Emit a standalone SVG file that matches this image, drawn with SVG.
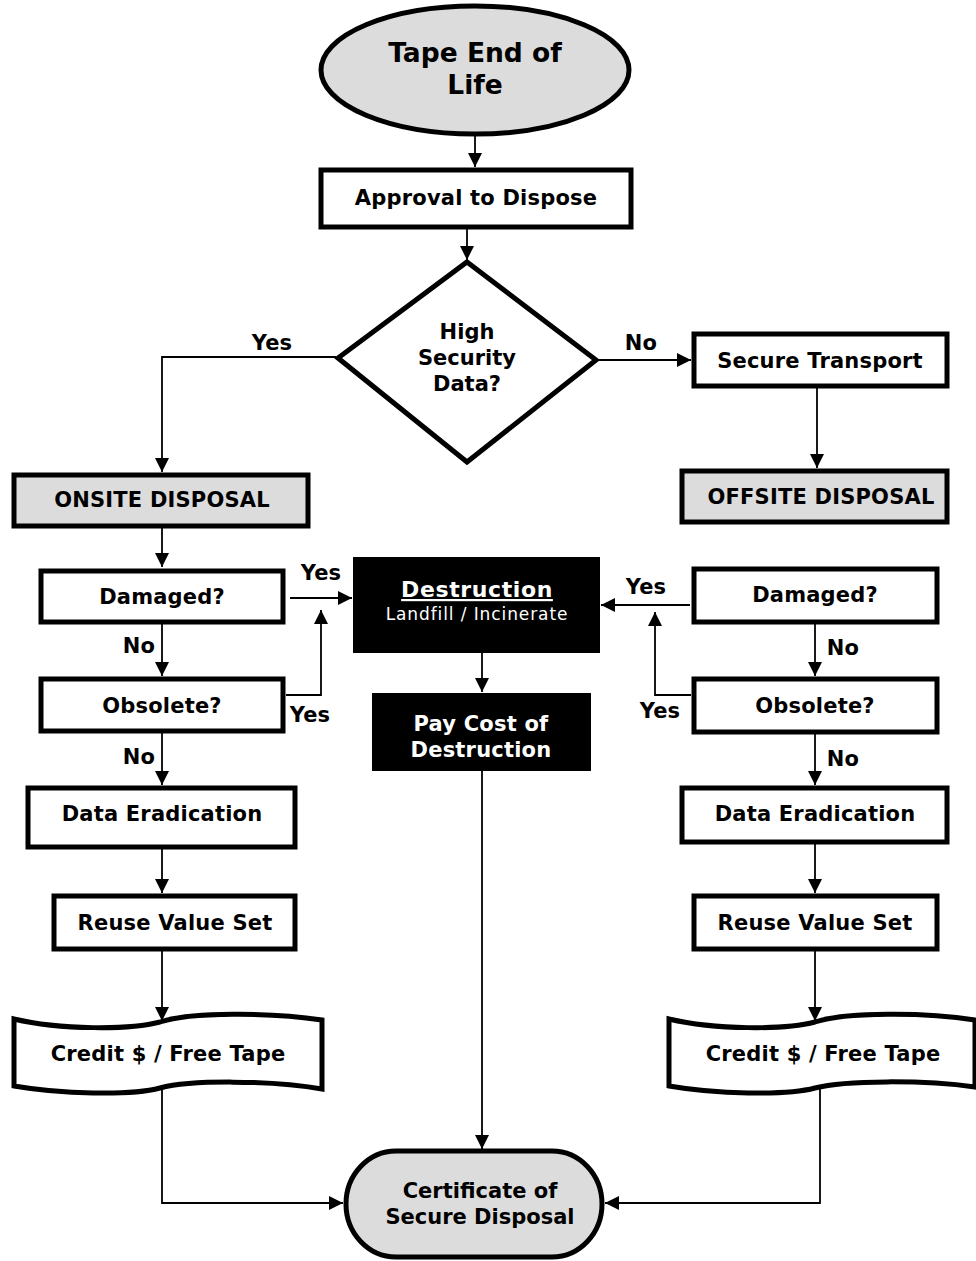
<svg xmlns="http://www.w3.org/2000/svg" width="976" height="1261" viewBox="0 0 976 1261">
<defs>
<marker id="ah" viewBox="0 0 14 14" refX="14" refY="7" markerWidth="14" markerHeight="14" markerUnits="userSpaceOnUse" orient="auto">
<path d="M0,0 L14,7 L0,14 Z" fill="#000"/>
</marker>
<style>
.box{fill:#fff;stroke:#000;stroke-width:5}
.gray{fill:#dcdcdc;stroke:#000;stroke-width:5}
.blk{fill:#000;stroke:none}
.c{fill:none;stroke:#000;stroke-width:1.8}
.a{marker-end:url(#ah)}
text{font-family:"DejaVu Sans","Liberation Sans",sans-serif;font-weight:bold;font-size:21px;letter-spacing:0.2px;fill:#000;text-anchor:middle}
.w{fill:#fff}
.big{font-size:26.5px;letter-spacing:0}
.mid{font-size:21px;letter-spacing:0}
</style>
</defs>
<rect width="976" height="1261" fill="#fff"/>

<g id="connectors">
<path class="c a" d="M475,135 V167"/>
<path class="c a" d="M467,228 V260"/>
<path class="c a" d="M336,357 H162 V472"/>
<path class="c a" d="M598,360 H691"/>
<path class="c a" d="M817,387 V468"/>
<path class="c a" d="M162,527 V567"/>
<path class="c a" d="M290,598 H352"/>
<path class="c a" d="M162,623 V676"/>
<path class="c a" d="M286,695 H321 V610"/>
<path class="c a" d="M162,733 V785"/>
<path class="c a" d="M162,848 V893"/>
<path class="c a" d="M162,950 V1021"/>
<path class="c a" d="M162,1088 V1203 H343"/>
<path class="c a" d="M482,653 V692"/>
<path class="c a" d="M482,771 V1149"/>
<path class="c a" d="M690,605 H601"/>
<path class="c a" d="M691,695 H655 V612"/>
<path class="c a" d="M815,623 V676"/>
<path class="c a" d="M815,733 V785"/>
<path class="c a" d="M815,843 V893"/>
<path class="c a" d="M815,950 V1021"/>
<path class="c a" d="M820,1088 V1203 H605"/>
</g>

<g id="labels">
<text x="272" y="350">Yes</text>
<text x="641" y="350">No</text>
<text x="321" y="580">Yes</text>
<text x="310" y="722">Yes</text>
<text x="139" y="653">No</text>
<text x="139" y="764">No</text>
<text x="646" y="594">Yes</text>
<text x="660" y="718">Yes</text>
<text x="843" y="655">No</text>
<text x="843" y="766">No</text>
</g>

<g id="tape-end">
<ellipse class="gray" cx="475" cy="70" rx="154" ry="64"/>
<text class="big" x="475" y="62">Tape End of</text>
<text class="big" x="475" y="94">Life</text>
</g>

<g id="approval">
<rect class="box" x="321" y="170" width="310" height="57"/>
<text x="476" y="205">Approval to Dispose</text>
</g>

<g id="decision">
<polygon class="box" points="467,262 596,360 467,462 338,358"/>
<text class="mid" x="467" y="339">High</text>
<text class="mid" x="467" y="365">Security</text>
<text class="mid" x="467" y="391">Data?</text>
</g>

<g id="secure-transport">
<rect class="box" x="694" y="334" width="253" height="52"/>
<text x="820" y="368">Secure Transport</text>
</g>

<g id="onsite">
<rect class="gray" x="14" y="475" width="294" height="51"/>
<text x="162" y="507">ONSITE DISPOSAL</text>
</g>

<g id="offsite">
<rect class="gray" x="682" y="471" width="265" height="51"/>
<text x="821" y="504">OFFSITE DISPOSAL</text>
</g>

<g id="damaged-left">
<rect class="box" x="41" y="571" width="242" height="51"/>
<text x="162" y="604">Damaged?</text>
</g>

<g id="obsolete-left">
<rect class="box" x="41" y="679" width="242" height="52"/>
<text x="162" y="713">Obsolete?</text>
</g>

<g id="eradication-left">
<rect class="box" x="28" y="788" width="267" height="59"/>
<text x="162" y="821">Data Eradication</text>
</g>

<g id="reuse-left">
<rect class="box" x="54" y="896" width="241" height="53"/>
<text x="175" y="930">Reuse Value Set</text>
</g>

<g id="credit-left">
<path class="box" d="M14,1019 C60,1030 130,1030 160,1022 C190,1012 270,1012 322,1020 L322,1089 C270,1080 190,1080 160,1088 C130,1096 60,1094 14,1086 Z"/>
<text x="168" y="1061">Credit $ / Free Tape</text>
</g>

<g id="destruction">
<rect class="blk" x="353" y="557" width="247" height="96"/>
<text class="w" x="477" y="597" style="font-size:22px;letter-spacing:0.6px;text-decoration:underline">Destruction</text>
<text class="w" x="477" y="620" style="font-weight:normal;font-size:17px;letter-spacing:0.9px">Landfill / Incinerate</text>
</g>

<g id="pay-cost">
<rect class="blk" x="372" y="693" width="219" height="78"/>
<text class="w" x="481" y="731">Pay Cost of</text>
<text class="w" x="481" y="757">Destruction</text>
</g>

<g id="damaged-right">
<rect class="box" x="694" y="569" width="243" height="53"/>
<text x="815" y="602">Damaged?</text>
</g>

<g id="obsolete-right">
<rect class="box" x="694" y="679" width="243" height="53"/>
<text x="815" y="713">Obsolete?</text>
</g>

<g id="eradication-right">
<rect class="box" x="682" y="788" width="265" height="54"/>
<text x="815" y="821">Data Eradication</text>
</g>

<g id="reuse-right">
<rect class="box" x="694" y="896" width="243" height="53"/>
<text x="815" y="930">Reuse Value Set</text>
</g>

<g id="credit-right">
<path class="box" d="M669,1019 C715,1030 785,1030 815,1022 C845,1012 925,1012 975,1020 L975,1087 C925,1080 845,1080 815,1088 C785,1096 715,1094 669,1086 Z"/>
<text x="823" y="1061">Credit $ / Free Tape</text>
</g>

<g id="certificate">
<rect class="gray" x="346" y="1151" width="256" height="106" rx="50" ry="53"/>
<text class="mid" x="480" y="1198">Certificate of</text>
<text class="mid" x="480" y="1224">Secure Disposal</text>
</g>
</svg>
